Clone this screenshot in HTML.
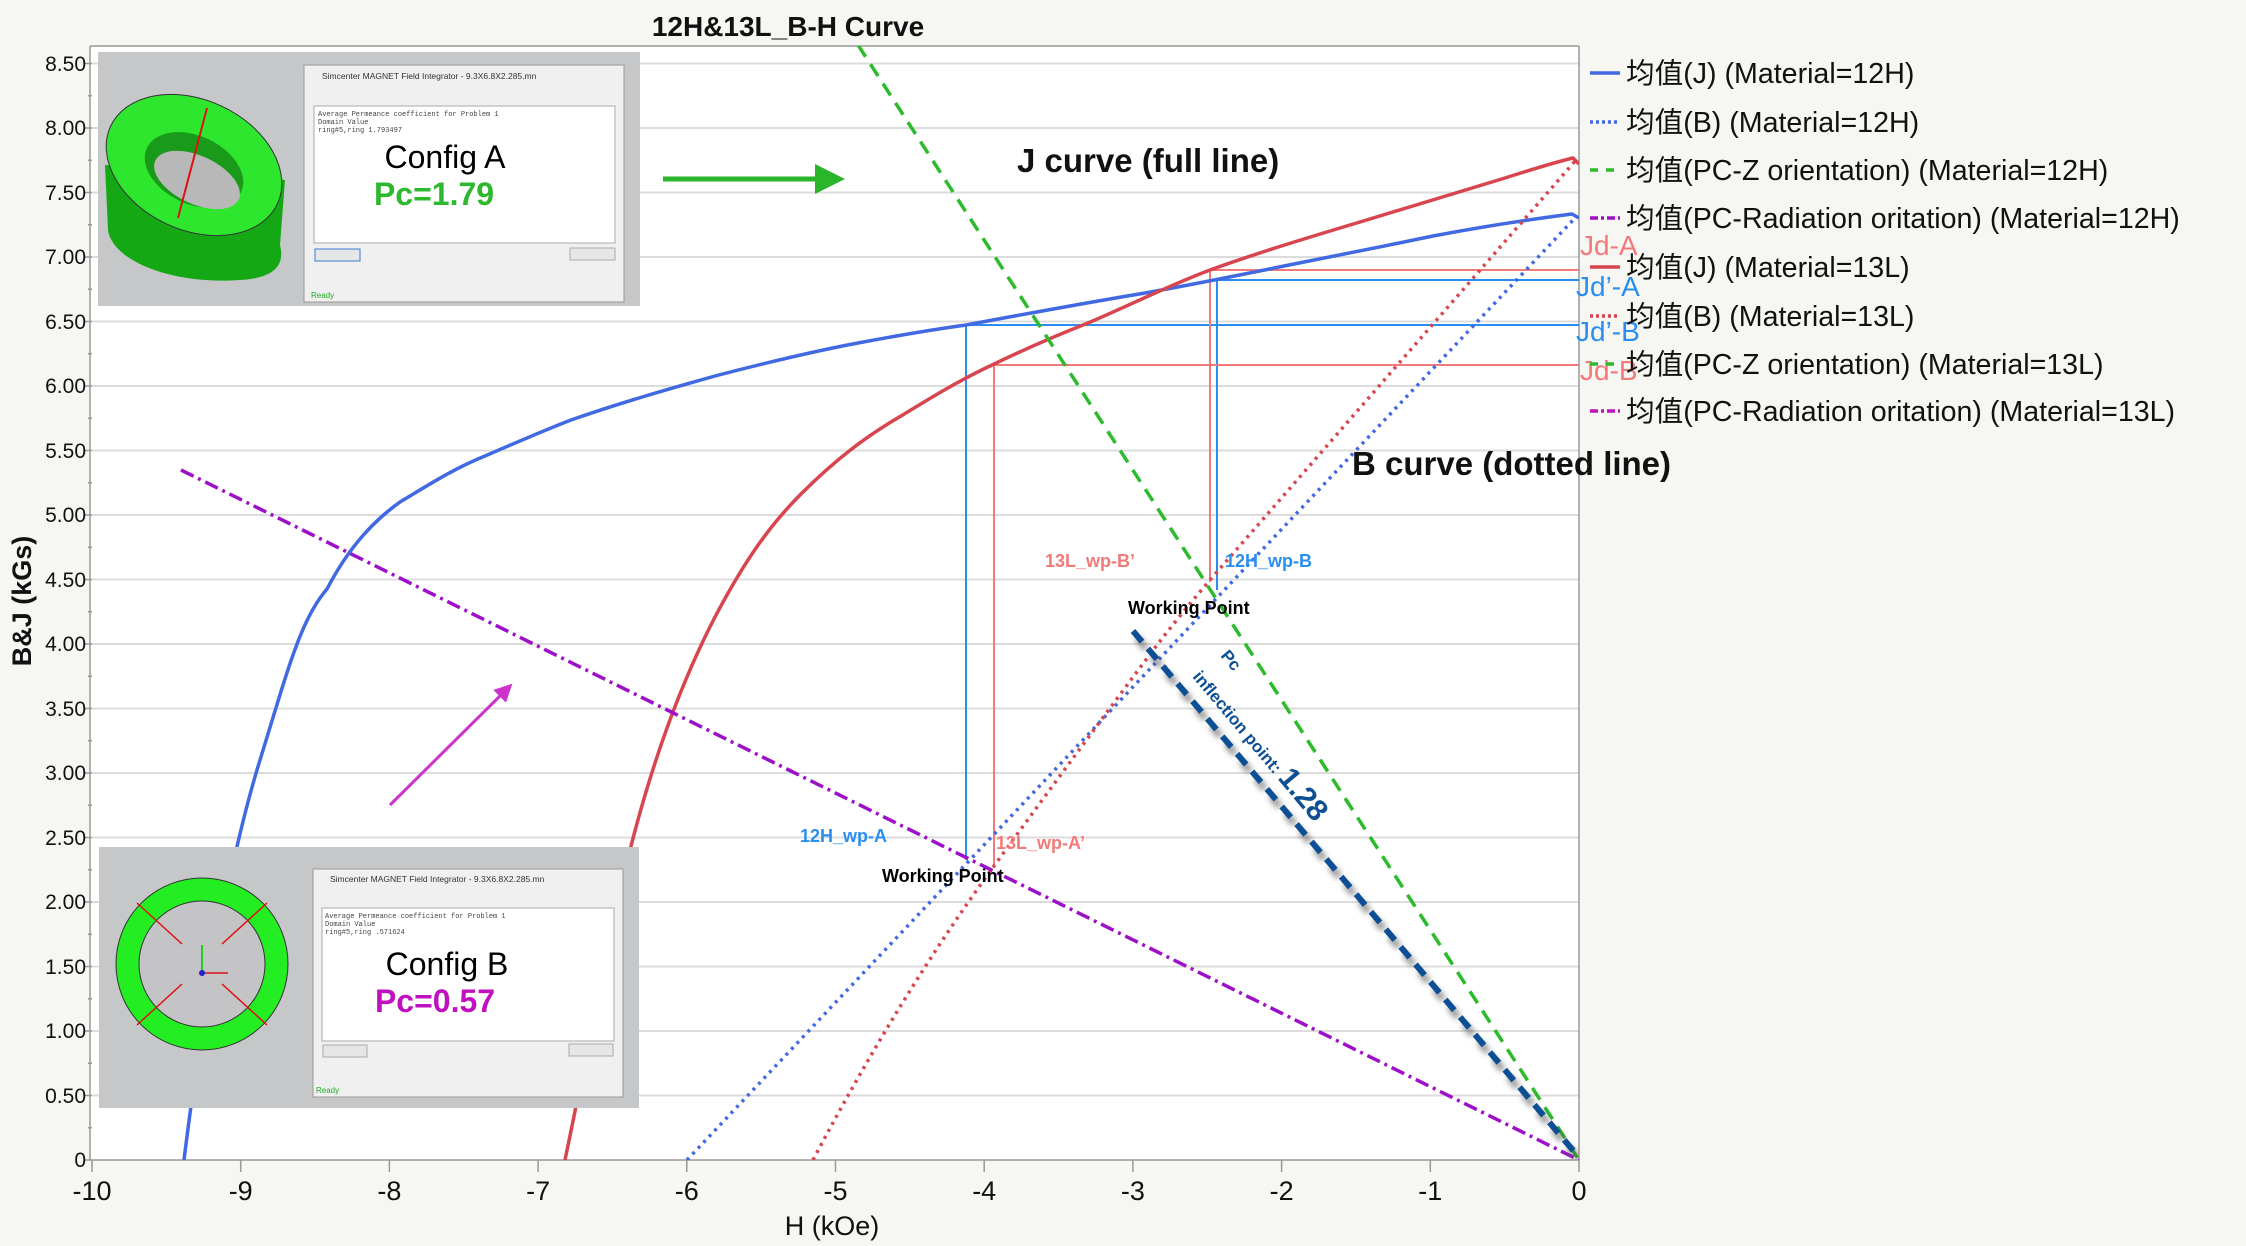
<!DOCTYPE html>
<html><head><meta charset="utf-8"><style>
html,body{margin:0;padding:0;background:#f6f6f3;}
svg{display:block;font-family:"Liberation Sans","Noto Sans CJK SC",sans-serif;}
</style></head><body>
<svg width="2246" height="1246" viewBox="0 0 2246 1246" xmlns="http://www.w3.org/2000/svg">
<defs>
<clipPath id="pc"><rect x="90" y="46" width="1489" height="1114"/></clipPath>
<filter id="sh" x="-20%" y="-20%" width="140%" height="140%"><feGaussianBlur stdDeviation="3"/></filter>
<marker id="ag" markerWidth="6" markerHeight="6" refX="3" refY="3" orient="auto" markerUnits="strokeWidth"><path d="M0,0 L6,3 L0,6 z" fill="#2ab52a"/></marker>
<marker id="am" markerWidth="6" markerHeight="6" refX="3" refY="3" orient="auto" markerUnits="strokeWidth"><path d="M0,0 L6,3 L0,6 z" fill="#cc33cc"/></marker>
</defs>
<rect width="2246" height="1246" fill="#f6f6f3"/>
<rect x="90" y="46" width="1489" height="1114" fill="#fff"/>
<g stroke="#dcdcdc" stroke-width="2">
<line x1="90" x2="1579" y1="1095.5" y2="1095.5"/><line x1="90" x2="1579" y1="1031" y2="1031"/><line x1="90" x2="1579" y1="966.5" y2="966.5"/><line x1="90" x2="1579" y1="902" y2="902"/><line x1="90" x2="1579" y1="837.5" y2="837.5"/><line x1="90" x2="1579" y1="773" y2="773"/><line x1="90" x2="1579" y1="708.5" y2="708.5"/><line x1="90" x2="1579" y1="644" y2="644"/><line x1="90" x2="1579" y1="579.5" y2="579.5"/><line x1="90" x2="1579" y1="515" y2="515"/><line x1="90" x2="1579" y1="450.5" y2="450.5"/><line x1="90" x2="1579" y1="386" y2="386"/><line x1="90" x2="1579" y1="321.5" y2="321.5"/><line x1="90" x2="1579" y1="257" y2="257"/><line x1="90" x2="1579" y1="192.5" y2="192.5"/><line x1="90" x2="1579" y1="128" y2="128"/><line x1="90" x2="1579" y1="63.5" y2="63.5"/>
</g>
<g stroke="#999" stroke-width="1.5" fill="none">
<line x1="90" y1="46" x2="90" y2="1160"/><line x1="1579" y1="46" x2="1579" y2="1160"/><line x1="90" y1="46" x2="1579" y2="46"/><line x1="90" y1="1160" x2="1579" y2="1160"/>
<path d="M92,1160h-8M92,1095.5h-8M92,1031h-8M92,966.5h-8M92,902h-8M92,837.5h-8M92,773h-8M92,708.5h-8M92,644h-8M92,579.5h-8M92,515h-8M92,450.5h-8M92,386h-8M92,321.5h-8M92,257h-8M92,192.5h-8M92,128h-8M92,63.5h-8"/>
<path d="M92,1127.75h-4M92,1063.25h-4M92,998.75h-4M92,934.25h-4M92,869.75h-4M92,805.25h-4M92,740.75h-4M92,676.25h-4M92,611.75h-4M92,547.25h-4M92,482.75h-4M92,418.25h-4M92,353.75h-4M92,289.25h-4M92,224.75h-4M92,160.25h-4M92,95.75h-4"/>
<path d="M92,1160v12M240.7,1160v12M389.4,1160v12M538.1,1160v12M686.8,1160v12M835.5,1160v12M984.2,1160v12M1132.9,1160v12M1281.6,1160v12M1430.3,1160v12M1579,1160v12"/>
</g>
<g font-size="21" fill="#111" text-anchor="end">
<text x="86" y="1167">0</text><text x="86" y="1103">0.50</text><text x="86" y="1038">1.00</text><text x="86" y="974">1.50</text><text x="86" y="909">2.00</text><text x="86" y="845">2.50</text><text x="86" y="780">3.00</text><text x="86" y="716">3.50</text><text x="86" y="651">4.00</text><text x="86" y="587">4.50</text><text x="86" y="522">5.00</text><text x="86" y="458">5.50</text><text x="86" y="393">6.00</text><text x="86" y="329">6.50</text><text x="86" y="264">7.00</text><text x="86" y="200">7.50</text><text x="86" y="135">8.00</text><text x="86" y="71">8.50</text>
</g>
<g font-size="27" fill="#111" text-anchor="middle">
<text x="92" y="1200">-10</text><text x="240.7" y="1200">-9</text><text x="389.4" y="1200">-8</text><text x="538.1" y="1200">-7</text><text x="686.8" y="1200">-6</text><text x="835.5" y="1200">-5</text><text x="984.2" y="1200">-4</text><text x="1132.9" y="1200">-3</text><text x="1281.6" y="1200">-2</text><text x="1430.3" y="1200">-1</text><text x="1579" y="1200">0</text>
</g>
<text x="832" y="1235" font-size="27" text-anchor="middle" fill="#111">H (kOe)</text>
<text transform="translate(31,601) rotate(-90)" font-size="27" font-weight="bold" text-anchor="middle" fill="#111">B&amp;J (kGs)</text>
<text x="788" y="36" font-size="28" font-weight="bold" text-anchor="middle" fill="#111">12H&amp;13L_B-H Curve</text>

<g clip-path="url(#pc)" fill="none">
<g stroke-width="2">
<path d="M966,860V325H1579" stroke="#2a8ef0"/>
<path d="M1217,590V280H1579" stroke="#2a8ef0"/>
<path d="M994,868V365H1579" stroke="#f27a7a"/>
<path d="M1210,582V270H1579" stroke="#f27a7a"/>
</g>
<path d="M184,1160 C205,990 233,847 260,760 S300,620 327,589 C350,545 375,520 400,502 C430,484 455,468 485,456 C515,443 545,430 571,420 C620,403 665,390 715,376 C765,363 810,352 858,343 C895,336 930,330 966,325 C1025,314 1085,303 1145,293 C1195,284 1240,275 1289,265 C1340,255 1385,246 1433,236 C1480,227 1525,220 1572,214 L1579,218" stroke="#4169e1" stroke-width="3.5"/>
<path d="M565,1160 C590,1040 608,940 629,854 C655,750 685,675 715,617 C745,560 770,525 801,494 C835,460 865,437 901,416 C932,397 960,380 992,365 C1025,349 1055,336 1088,323 C1128,306 1170,285 1210,270 C1260,252 1310,237 1360,222 C1410,207 1458,192 1505,178 C1530,170 1552,163 1573,158 L1579,164" stroke="#d8454f" stroke-width="3.5"/>
<line x1="687" y1="1160" x2="1575" y2="218" stroke="#4169e1" stroke-width="3.5" stroke-dasharray="3 5"/>
<path d="M813,1160 Q900,995 994,866 Q1080,748 1154,649 Q1180,615 1210,580 L1576,160" stroke="#d8454f" stroke-width="3.5" stroke-dasharray="3 5"/>
<line x1="858" y1="45" x2="1579" y2="1160" stroke="#2bbb2b" stroke-width="3.5" stroke-dasharray="14 9"/>
<line x1="181" y1="470" x2="1579" y2="1160" stroke="#9d10c8" stroke-width="3.5" stroke-dasharray="14 5 3 5"/>
<line x1="1137" y1="638" x2="1581" y2="1162" stroke="#555" stroke-width="7" stroke-dasharray="14 9" filter="url(#sh)" opacity="0.6"/>
<line x1="1133" y1="631" x2="1577" y2="1155" stroke="#0d4f94" stroke-width="6" stroke-dasharray="14 9"/>
</g>

<g font-size="28" >
<text x="1580" y="255" fill="#f27a7a">Jd-A</text>
<text x="1576" y="296" fill="#2a8ef0">Jd’-A</text>
<text x="1576" y="341" fill="#2a8ef0">Jd’-B</text>
<text x="1580" y="380" fill="#f27a7a">Jd-B</text>
</g>
<text x="1017" y="172" font-size="33" font-weight="bold" fill="#111">J curve (full line)</text>
<text x="1352" y="475" font-size="33" font-weight="bold" fill="#111">B curve (dotted line)</text>
<g font-size="18" font-weight="bold">
<text x="1045" y="567" fill="#f27a7a">13L_wp-B’</text>
<text x="1225" y="567" fill="#2a8ef0">12H_wp-B</text>
<text x="1128" y="614" fill="#000">Working  Point</text>
<text x="800" y="842" fill="#2a8ef0">12H_wp-A</text>
<text x="996" y="849" fill="#f27a7a">13L_wp-A’</text>
<text x="882" y="882" fill="#000">Working  Point</text>
</g>
<g transform="translate(1220,656) rotate(50)" fill="#0d4f94" font-weight="bold">
<text x="0" y="0" font-size="17">Pc</text>
</g>
<g transform="translate(1192,677) rotate(50)" fill="#0d4f94" font-weight="bold">
<text x="0" y="0" font-size="17">inflection point: <tspan font-size="30">1.28</tspan></text>
</g>

<line x1="663" y1="179" x2="830" y2="179" stroke="#2ab52a" stroke-width="5" marker-end="url(#ag)"/>
<line x1="390" y1="805" x2="506" y2="690" stroke="#cc33cc" stroke-width="3" marker-end="url(#am)"/>

<rect x="98" y="52" width="542" height="254" fill="#c6c7c9"/>
<path d="M105,165 L108,230 C112,260 170,285 240,280 C275,278 285,265 280,245 L285,180 Z" fill="#14a814"/>
<ellipse cx="194" cy="165" rx="92" ry="65" transform="rotate(25 194 165)" fill="#2ee62e" stroke="#333" stroke-width="1"/>
<ellipse cx="194" cy="170" rx="52" ry="34" transform="rotate(25 194 170)" fill="#1a9a1a"/>
<ellipse cx="197" cy="180" rx="46" ry="24" transform="rotate(25 197 180)" fill="#b8b8b8"/>
<line x1="178" y1="218" x2="207" y2="108" stroke="#e01010" stroke-width="2"/>
<rect x="304" y="65" width="320" height="237" fill="#f0f0f0" stroke="#999"/>
<text x="322" y="79" font-size="8.5" fill="#333">Simcenter MAGNET Field Integrator - 9.3X6.8X2.285.mn</text>
<rect x="314" y="106" width="301" height="137" fill="#fff" stroke="#aaa"/>
<text x="318" y="116" font-size="7" fill="#444" font-family="Liberation Mono">Average Permeance coefficient for Problem 1</text>
<text x="318" y="124" font-size="7" fill="#444" font-family="Liberation Mono">     Domain              Value</text>
<text x="318" y="132" font-size="7" fill="#444" font-family="Liberation Mono">ring#5,ring            1.793497</text>
<text x="445" y="168" font-size="32" text-anchor="middle" fill="#000">Config A</text>
<text x="434" y="205" font-size="32" font-weight="bold" text-anchor="middle" fill="#2db82d">Pc=1.79</text>
<rect x="315" y="249" width="45" height="12" fill="#e6e6e6" stroke="#3a7bd5"/>
<rect x="570" y="248" width="45" height="12" fill="#e6e6e6" stroke="#aaa"/>
<text x="311" y="298" font-size="8" fill="#2a2">Ready</text>

<rect x="99" y="847" width="540" height="261" fill="#c6c7c9"/>
<circle cx="202" cy="964" r="86" fill="#22ee22" stroke="#333" stroke-width="1"/>
<circle cx="202" cy="964" r="63" fill="#c4c4c6" stroke="#333" stroke-width="1"/>
<g stroke="#e01010" stroke-width="1.5"><line x1="182" y1="944" x2="137" y2="903"/><line x1="222" y1="944" x2="267" y2="903"/><line x1="182" y1="984" x2="137" y2="1025"/><line x1="222" y1="984" x2="267" y2="1025"/><line x1="202" y1="973" x2="228" y2="973"/></g>
<line x1="202" y1="973" x2="202" y2="945" stroke="#2c2" stroke-width="2"/>
<circle cx="202" cy="973" r="3" fill="#22c"/>
<rect x="313" y="869" width="310" height="228" fill="#f0f0f0" stroke="#999"/>
<text x="330" y="882" font-size="8.5" fill="#333">Simcenter MAGNET Field Integrator - 9.3X6.8X2.285.mn</text>
<rect x="322" y="908" width="292" height="133" fill="#fff" stroke="#aaa"/>
<text x="325" y="918" font-size="7" fill="#444" font-family="Liberation Mono">Average Permeance coefficient for Problem 1</text>
<text x="325" y="926" font-size="7" fill="#444" font-family="Liberation Mono">     Domain              Value</text>
<text x="325" y="934" font-size="7" fill="#444" font-family="Liberation Mono">ring#5,ring             .571624</text>
<text x="447" y="975" font-size="32" text-anchor="middle" fill="#000">Config B</text>
<text x="435" y="1012" font-size="32" font-weight="bold" text-anchor="middle" fill="#c010c0">Pc=0.57</text>
<rect x="323" y="1045" width="44" height="12" fill="#e6e6e6" stroke="#aaa"/>
<rect x="569" y="1044" width="44" height="12" fill="#e6e6e6" stroke="#aaa"/>
<text x="316" y="1093" font-size="8" fill="#2a2">Ready</text>

<g stroke-width="3.5">
<line x1="1590" x2="1620" y1="73" y2="73" stroke="#4169e1"/>
<line x1="1590" x2="1620" y1="122" y2="122" stroke="#4169e1" stroke-dasharray="3 3"/>
<line x1="1590" x2="1620" y1="170" y2="170" stroke="#2bbb2b" stroke-dasharray="8 8"/>
<line x1="1590" x2="1620" y1="218" y2="218" stroke="#9d10c8" stroke-dasharray="8 3 3 3"/>
<line x1="1590" x2="1620" y1="267" y2="267" stroke="#d8454f"/>
<line x1="1590" x2="1620" y1="316" y2="316" stroke="#d8454f" stroke-dasharray="3 3"/>
<line x1="1590" x2="1620" y1="364" y2="364" stroke="#2bbb2b" stroke-dasharray="8 8"/>
<line x1="1590" x2="1620" y1="411" y2="411" stroke="#c010c0" stroke-dasharray="8 3 3 3"/>
</g>
<g font-size="28.6" fill="#111">
<text x="1626" y="83">均值(J) (Material=12H)</text>
<text x="1626" y="132">均值(B) (Material=12H)</text>
<text x="1626" y="180">均值(PC-Z orientation) (Material=12H)</text>
<text x="1626" y="228">均值(PC-Radiation oritation) (Material=12H)</text>
<text x="1626" y="277">均值(J) (Material=13L)</text>
<text x="1626" y="326">均值(B) (Material=13L)</text>
<text x="1626" y="374">均值(PC-Z orientation) (Material=13L)</text>
<text x="1626" y="421">均值(PC-Radiation oritation) (Material=13L)</text>
</g>
</svg>
</body></html>
